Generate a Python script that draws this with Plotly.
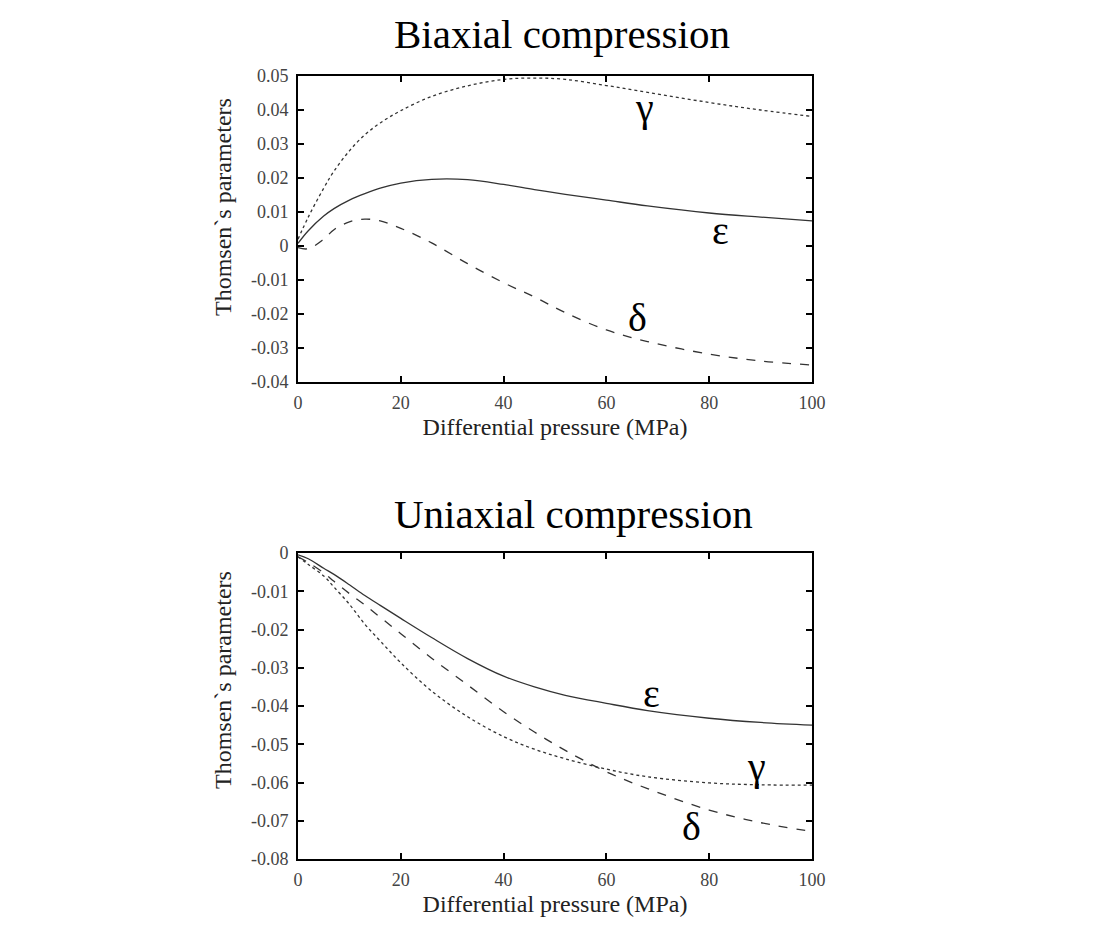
import plotly.graph_objects as go
from plotly.subplots import make_subplots

# differential pressure (MPa), shared by every curve
pressure = [0, 2, 5, 7, 10, 13, 16, 20, 26, 33, 40, 46, 52, 60, 68, 80, 90, 100]

# biaxial compression
biax_gamma = [0.002, 0.0085, 0.0170, 0.0220, 0.0280, 0.0327, 0.0362, 0.0398, 0.0440, 0.0471, 0.0490,
              0.0494, 0.0490, 0.0472, 0.0452, 0.0422, 0.0400, 0.0381]
biax_epsilon = [0.0008, 0.0045, 0.0088, 0.0110, 0.0135, 0.0154, 0.0170, 0.0185, 0.0196, 0.0195, 0.0181,
                0.0166, 0.0152, 0.0135, 0.0118, 0.0097, 0.0085, 0.0074]
biax_delta = [-0.0005, -0.0008, 0.002, 0.0048, 0.0071, 0.0079, 0.0074, 0.0052, 0.0009, -0.0052, -0.0108,
              -0.0150, -0.0196, -0.0247, -0.0281, -0.0318, -0.0338, -0.0350]

# uniaxial compression
uniax_epsilon = [-0.0005, -0.0015, -0.0040, -0.0056, -0.0083, -0.0111, -0.0137, -0.0171, -0.0221, -0.0276,
                 -0.0322, -0.0350, -0.0372, -0.0393, -0.0412, -0.0432, -0.0443, -0.0450]
uniax_delta = [-0.001, -0.0025, -0.0052, -0.0074, -0.0106, -0.0136, -0.0168, -0.0211, -0.0275, -0.0345,
               -0.0415, -0.0468, -0.0516, -0.0572, -0.0616, -0.0672, -0.0705, -0.0728]
uniax_gamma = [-0.001, -0.003, -0.006, -0.0089, -0.0134, -0.0186, -0.0230, -0.0287, -0.0361, -0.0428,
               -0.0480, -0.0513, -0.0538, -0.0565, -0.0585, -0.0601, -0.0606, -0.0607]

x_ticks = [0, 20, 40, 60, 80, 100]
top_y_ticks = [0.05, 0.04, 0.03, 0.02, 0.01, 0, -0.01, -0.02, -0.03, -0.04]
top_y_labels = ["0.05", "0.04", "0.03", "0.02", "0.01", "0", "-0.01", "-0.02", "-0.03", "-0.04"]
bot_y_ticks = [0, -0.01, -0.02, -0.03, -0.04, -0.05, -0.06, -0.07, -0.08]
bot_y_labels = ["0", "-0.01", "-0.02", "-0.03", "-0.04", "-0.05", "-0.06", "-0.07", "-0.08"]

SERIF = "Liberation Serif, Times New Roman, serif"
LINE = "#333333"
W, H = 1100, 940
OFF = 8  # page body margin pushes the figure right/down by this much


def px(x):
    return (x - OFF) / W


def py(y):
    return 1 - (y - OFF) / H


fig = make_subplots(rows=2, cols=1)


def add_curve(y, dash, row):
    fig.add_trace(go.Scatter(x=pressure, y=y, mode="lines", line_shape="spline",
                             line=dict(color=LINE, width=1.3, dash=dash), showlegend=False),
                  row=row, col=1)


add_curve(biax_gamma, "dot", 1)
add_curve(biax_epsilon, "solid", 1)
add_curve(biax_delta, "dash", 1)
add_curve(uniax_epsilon, "solid", 2)
add_curve(uniax_gamma, "dot", 2)
add_curve(uniax_delta, "dash", 2)

axis_style = dict(showline=True, linecolor="black", linewidth=2, mirror="ticks",
                  ticks="inside", ticklen=6, tickwidth=2, tickcolor="black",
                  showgrid=False, zeroline=False, automargin=False,
                  tickfont=dict(family=SERIF, size=18, color="#444444"))

fig.update_xaxes(**axis_style, range=[0, 100], tickvals=x_ticks, domain=[px(298), px(812)],
                 ticklabelstandoff=3,
                 title=dict(text="Differential pressure (MPa)", font=dict(family=SERIF, size=24, color="#222222"),
                            standoff=7))
fig.update_yaxes(**axis_style, ticklabelstandoff=4)
fig.update_yaxes(range=[-0.04, 0.05], tickvals=top_y_ticks, ticktext=top_y_labels,
                 domain=[py(382), py(76)], row=1, col=1)
fig.update_yaxes(range=[-0.08, 0], tickvals=bot_y_ticks, ticktext=bot_y_labels,
                 domain=[py(859), py(553)], row=2, col=1)

# y titles sit a little above the middle of each panel, so they go in as annotations
for ty in [207, 680]:
    fig.add_annotation(text="Thomsen`s parameters", x=px(223), y=py(ty), xref="paper", yref="paper",
                       xanchor="center", yanchor="middle", textangle=-90, showarrow=False,
                       font=dict(family=SERIF, size=24, color="#222222"))

# greek curve labels
greek = [("γ", 67.5, 0.0406, "x", "y"), ("ε", 82.2, 0.0045, "x", "y"), ("δ", 66.0, -0.0209, "x", "y"),
         ("ε", 68.8, -0.0367, "x2", "y2"), ("γ", 89.2, -0.0559, "x2", "y2"), ("δ", 76.6, -0.0716, "x2", "y2")]
for txt, gx, gy, xr, yr in greek:
    fig.add_annotation(text=txt, x=gx, y=gy, xref=xr, yref=yr, showarrow=False,
                       font=dict(family=SERIF, size=40, color="black"))

for title, tx, ty in [("Biaxial compression", 562, 34), ("Uniaxial compression", 573, 514)]:
    fig.add_annotation(text=title, x=px(tx), y=py(ty), xref="paper", yref="paper",
                       xanchor="center", yanchor="middle", showarrow=False,
                       font=dict(family=SERIF, size=41, color="black"))

fig.update_layout(width=W, height=H, margin=dict(l=0, r=0, t=0, b=0),
                  plot_bgcolor="white", paper_bgcolor="white")

fig.write_html("out.html")
